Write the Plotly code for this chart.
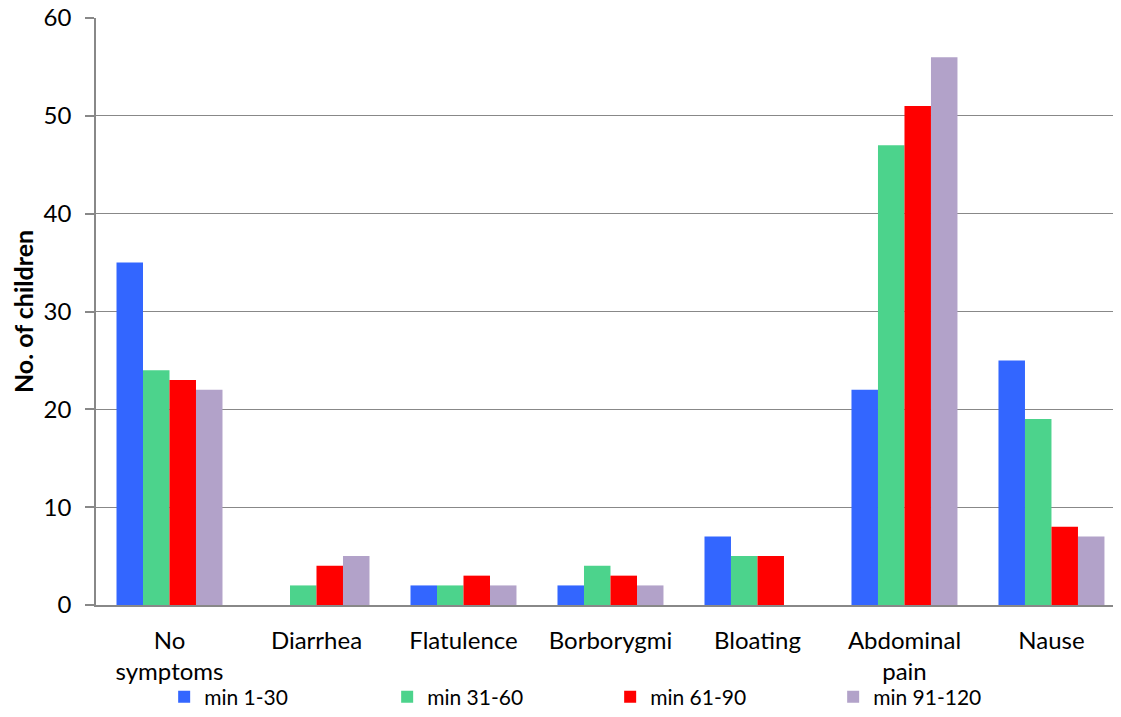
import plotly.graph_objects as go

categories = ["No<br>symptoms", "Diarrhea", "Flatulence", "Borborygmi", "Bloating", "Abdominal<br>pain", "Nause"]
series_names = ["min 1-30", "min 31-60", "min 61-90", "min 91-120"]
min_1_30 = [35, 0, 2, 2, 7, 22, 25]
min_31_60 = [24, 2, 2, 4, 5, 47, 19]
min_61_90 = [23, 4, 3, 3, 5, 51, 8]
min_91_120 = [22, 5, 2, 2, 0, 56, 7]
colors = ["#3366FF", "#4CD38C", "#FF0000", "#B2A2C9"]
y_ticks = [0, 10, 20, 30, 40, 50, 60]

FONT = "Lato, 'Open Sans', sans-serif"

fig = go.Figure()
for name, vals, col in zip(series_names, [min_1_30, min_31_60, min_61_90, min_91_120], colors):
    fig.add_trace(go.Bar(x=categories, y=vals, name=name, marker=dict(color=col, line=dict(width=0))))

fig.update_layout(
    width=1113, height=701,
    margin=dict(l=88, r=0, t=10, b=104, autoexpand=False),
    plot_bgcolor="white", paper_bgcolor="white",
    barmode="group", bargap=0.279, bargroupgap=0,
    font=dict(family=FONT, size=24, color="black"),
    showlegend=True,
    legend=dict(orientation="h", x=0.0665, xanchor="left", y=-0.157, yanchor="middle",
                bgcolor="rgba(0,0,0,0)",
                font=dict(size=21), entrywidth=178, entrywidthmode="pixels",
                itemsizing="constant", traceorder="normal"),
    xaxis=dict(range=[-0.5, 6.473], showline=True, linecolor="#888888", linewidth=1.5, ticks="",
               tickfont=dict(size=24), ticklabelstandoff=13, automargin=False),
    yaxis=dict(range=[0, 60], tickvals=y_ticks, showline=True, linecolor="#888888", linewidth=1.5,
               ticks="outside", ticklen=9, tickcolor="#888888", tickwidth=1.5,
               showgrid=True, gridcolor="#888888", gridwidth=1.2, zeroline=False,
               tickfont=dict(size=24), ticklabelstandoff=9, automargin=False,
               ticklabeloverflow="allow",
               title=dict(text="<b>No. of children</b>", font=dict(size=25), standoff=7)),
)

fig.write_html("out.html")
